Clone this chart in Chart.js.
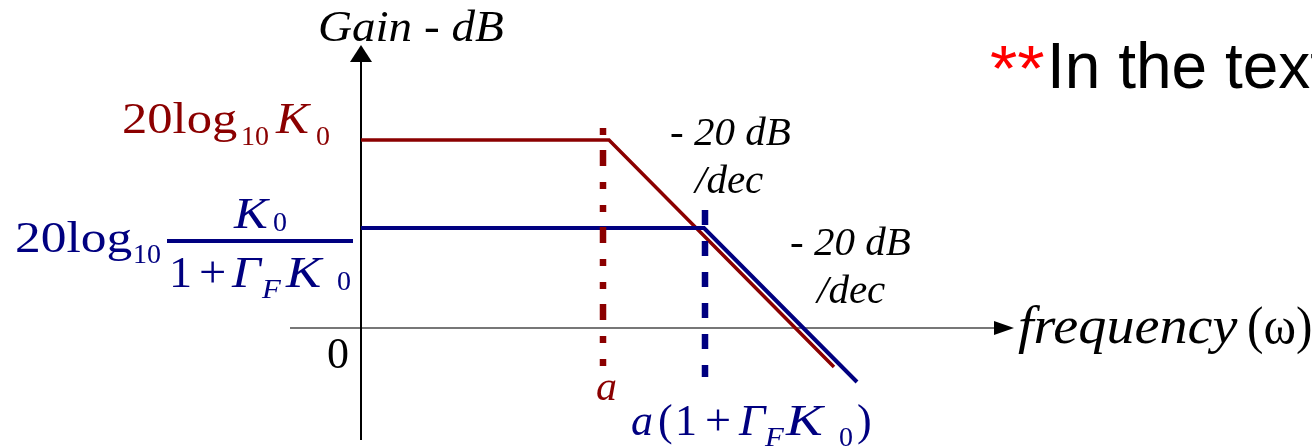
<!DOCTYPE html>
<html><head><meta charset="utf-8">
<script src="https://cdn.jsdelivr.net/npm/chart.js@4/dist/chart.umd.min.js"></script>
<style>html,body{margin:0;padding:0;background:#fff;overflow:hidden}canvas{display:block}</style>
</head><body>
<canvas id="c" width="1312" height="448"></canvas>
<script>
// Bode magnitude asymptotes: open loop gain vs. gain with feedback.
// x = decades of frequency counted from the gain axis, y = gain in dB.
const openLoopCurve    = [[0, 37.6], [2.48, 37.6], [4.73, -7.8]];
const closedLoopCurve  = [[0, 20.0], [3.43, 20.0], [4.96, -10.8]];
const openLoopCorner   = [[2.42, 40.0], [2.42, -7.8]];
const closedLoopCorner = [[3.44, 23.6], [3.44, -9.8]];
const xRange = [-0.71, 6.53];
const yRange = [-22.4, 56.6];
const slopeText = ['- 20 dB', '/dec'];
const zeroText = '0';

const RED = '#8b0000', BLUE = '#000080';
const SERIF = '"Liberation Serif", "Times New Roman", serif';
const SANS = '"Liberation Sans", Arial, sans-serif';
const R = px => px + 'px ' + SERIF;
const I = px => 'italic ' + px + 'px ' + SERIF;
const pts = a => a.map(([x, y]) => ({ x, y }));

// draw one text piece; sx widens the glyphs horizontally
function put(ctx, s, x, y, font, color, align, sx) {
  ctx.save();
  ctx.font = font;
  ctx.fillStyle = color;
  ctx.textAlign = align || 'left';
  ctx.textBaseline = 'alphabetic';
  ctx.translate(x, y);
  ctx.scale(sx || 1, 1);
  ctx.fillText(s, 0, 0);
  ctx.restore();
}

// a formula as a list of [text, dx, dy, font, sx] pieces relative to an anchor
function formula(ctx, x0, y0, color, pieces) {
  pieces.forEach(([s, dx, dy, font, sx]) => put(ctx, s, x0 + dx, y0 + dy, font, color, 'left', sx));
}

const bodeDecor = {
  id: 'bodeDecor',
  beforeDatasetsDraw(chart) {
    const { ctx, chartArea: a, scales: { x, y } } = chart;
    const ox = x.getPixelForValue(0), oy = y.getPixelForValue(0);
    ctx.save();
    // frequency axis
    ctx.strokeStyle = '#777';
    ctx.lineWidth = 2;
    ctx.beginPath();
    ctx.moveTo(a.left, oy);
    ctx.lineTo(a.right - 18, oy);
    ctx.stroke();
    ctx.fillStyle = '#000';
    ctx.beginPath();
    ctx.moveTo(a.right, oy);
    ctx.lineTo(a.right - 20, oy - 7);
    ctx.lineTo(a.right - 20, oy + 7);
    ctx.closePath();
    ctx.fill();
    // gain axis
    ctx.strokeStyle = '#000';
    ctx.beginPath();
    ctx.moveTo(ox, a.bottom);
    ctx.lineTo(ox, a.top + 16);
    ctx.stroke();
    ctx.beginPath();
    ctx.moveTo(ox, a.top);
    ctx.lineTo(ox - 11, a.top + 17);
    ctx.lineTo(ox + 11, a.top + 17);
    ctx.closePath();
    ctx.fill();
    ctx.restore();
  },
  afterDraw(chart) {
    const { ctx, chartArea: a, scales: { x, y } } = chart;
    const ox = x.getPixelForValue(0), oy = y.getPixelForValue(0);
    const yR = y.getPixelForValue(openLoopCurve[0][1]);
    const yB = y.getPixelForValue(closedLoopCurve[0][1]);
    const xa = x.getPixelForValue(openLoopCorner[0][0]);
    const xb = x.getPixelForValue(closedLoopCorner[0][0]);

    // axis titles
    put(ctx, 'Gain - dB', ox - 43, a.top - 4, I(44), '#000', 'left', 1.07);
    put(ctx, 'frequency', a.right + 4, oy + 15, I(52), '#000', 'left', 1.08);
    put(ctx, '(ω)', a.right + 233, oy + 15, R(52), '#000', 'left', 0.95);
    put(ctx, zeroText, ox - 12, oy + 40, R(44), '#000', 'right');

    // open-loop level: 20 log10 K0
    formula(ctx, ox, yR, RED, [
      ['20log', -239, -7, R(44), 1.15],
      ['10', -120, 5, R(28), 1.0],
      ['K', -85, -7, I(44), 1.12],
      ['0', -45, 5, R(28), 1.0]
    ]);

    // closed-loop level: 20 log10 K0 / (1 + ΓF K0)
    formula(ctx, ox, yB, BLUE, [
      ['20log', -346, 24, R(44), 1.17],
      ['10', -228, 35, R(28), 1.0],
      ['K', -127, 0, I(44), 1.15],
      ['0', -88, 3, R(28), 1.0],
      ['1', -192, 59, R(44), 1.05],
      ['+', -162, 59, R(44), 1.1],
      ['Γ', -129, 59, I(44), 1.15],
      ['F', -99, 70, I(28), 1.1],
      ['K', -75, 59, I(44), 1.2],
      ['0', -24, 62, R(28), 1.0]
    ]);
    ctx.fillStyle = BLUE;
    ctx.fillRect(ox - 194, yB + 11, 186, 4);

    // slope annotations
    put(ctx, slopeText[0], xa + 67, yR + 5, I(41), '#000');
    put(ctx, slopeText[1], xa + 92, yR + 53, I(41), '#000');
    put(ctx, slopeText[0], xb + 85, yB + 27, I(41), '#000');
    put(ctx, slopeText[1], xb + 112, yB + 75, I(41), '#000');

    // corner frequencies
    put(ctx, 'a', xa - 7, oy + 72, I(42), RED);
    formula(ctx, xb, oy + 107, BLUE, [
      ['a', -74, 0, I(44), 1.0],
      ['(', -47, 0, R(44), 1.0],
      ['1', -30, 0, R(44), 1.0],
      ['+', 0, 0, R(44), 1.05],
      ['Γ', 34, 0, I(44), 1.05],
      ['F', 60, 11, I(28), 1.1],
      ['K', 81, 0, I(44), 1.25],
      ['0', 134, 11, R(28), 1.0],
      [')', 152, 0, R(44), 1.0]
    ]);

    // side note
    put(ctx, '**', 990, 91, '65px ' + SANS, '#ff0000', 'left', 1.08);
    put(ctx, 'In the text', 1047, 88, '64px ' + SANS, '#000');
  }
};

const line = (data, color, width, dash) => ({
  data: pts(data), showLine: true, borderColor: color, borderWidth: width,
  borderDash: dash || [], pointRadius: 0, fill: false, tension: 0,
  borderCapStyle: 'butt', borderJoinStyle: 'miter', clip: false
});

new Chart(document.getElementById('c'), {
  type: 'scatter',
  data: {
    datasets: [
      line(closedLoopCorner, BLUE, 6.5, [15, 16]),
      line(openLoopCorner, RED, 6.5, [7, 15, 16, 16, 7, 16]),
      line(closedLoopCurve, BLUE, 4),
      line(openLoopCurve, RED, 3.5)
    ]
  },
  options: {
    responsive: false,
    animation: false,
    devicePixelRatio: 1,
    events: [],
    layout: { padding: { left: 290, right: 298, top: 45, bottom: 8 } },
    scales: {
      x: { type: 'linear', display: false, min: xRange[0], max: xRange[1] },
      y: { type: 'linear', display: false, min: yRange[0], max: yRange[1] }
    },
    plugins: { legend: { display: false }, tooltip: { enabled: false } }
  },
  plugins: [bodeDecor]
});
</script>
</body></html>
